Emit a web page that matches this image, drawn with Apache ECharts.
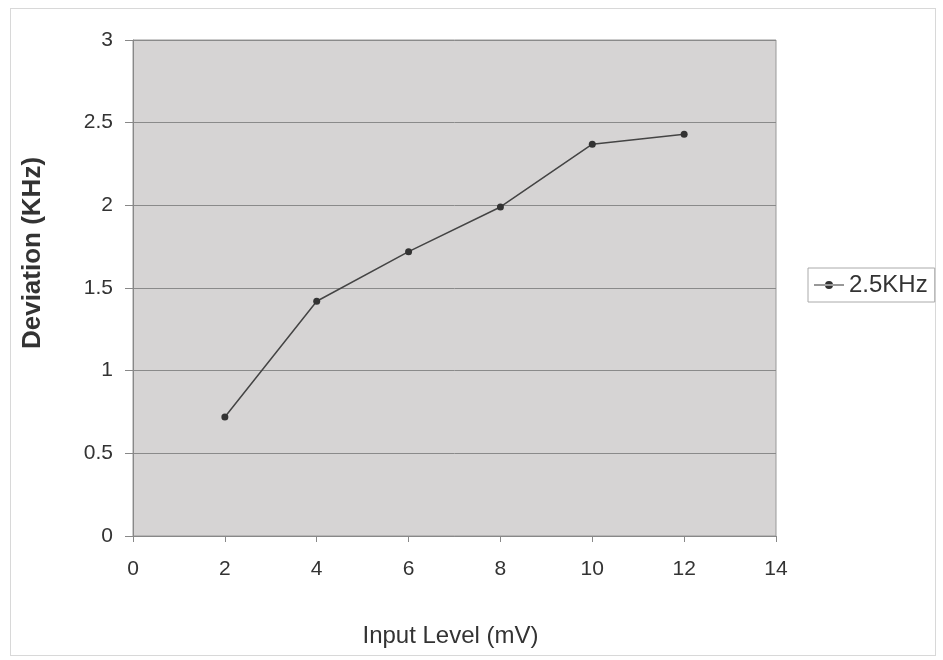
<!DOCTYPE html>
<html>
<head>
<meta charset="utf-8">
<script src="https://cdn.jsdelivr.net/npm/echarts@6/dist/echarts.min.js"></script>
<style>
html,body{margin:0;padding:0;background:#fff;}
#frame{position:absolute;left:10px;top:8px;width:924px;height:646px;border:1px solid #d8d8d8;}
#chart{position:absolute;left:0;top:0;width:943px;height:660px;}
</style>
</head>
<body>
<div id="frame"></div>
<div id="chart"></div>
<script>
const inputLevels = [2, 4, 6, 8, 10, 12];
const deviation = [0.72, 1.42, 1.72, 1.99, 2.37, 2.43];
const seriesName = '2.5KHz';
const xTitle = 'Input Level (mV)';
const yTitle = 'Deviation (KHz)';

const chart = echarts.init(document.getElementById('chart'));
const txt = '#333';
const ff = 'Liberation Sans, Arial';
chart.setOption({
  backgroundColor: 'transparent',
  animation: false,
  grid: { left: 133, right: 167, top: 40, bottom: 124, show: true, backgroundColor: '#d6d4d4', borderColor: '#999', borderWidth: 1 },
  legend: {
    show: true, left: 808, top: 268, orient: 'vertical',
    borderColor: '#aaa', borderWidth: 1, padding: [5, 7, 5, 6],
    itemWidth: 30, itemHeight: 10, itemGap: 0,
    textStyle: { fontFamily: ff, fontSize: 24, color: txt, lineHeight: 24 },
    data: [{ name: seriesName, icon: 'path://M0,4.5 L30,4.5 L30,5.5 L0,5.5 Z M11,5 a4,4 0 1,0 8,0 a4,4 0 1,0 -8,0' }]
  },
  graphic: [{
    type: 'text', x: 33, y: 253, rotation: Math.PI / 2, silent: true,
    style: { text: yTitle, x: 0, y: 0, align: 'center', verticalAlign: 'middle',
      font: 'bold 26px ' + ff, fill: txt }
  }],
  xAxis: {
    type: 'value', min: 0, max: 14, interval: 2,
    name: xTitle, nameLocation: 'middle', nameGap: 88,
    nameTextStyle: { fontFamily: ff, fontSize: 24, color: txt, padding: [0, 8, 0, 0] },
    axisLine: { show: true, lineStyle: { color: '#888', width: 1 } },
    axisTick: { show: true, length: 6, lineStyle: { color: '#888' } },
    axisLabel: { fontFamily: ff, fontSize: 21, color: txt, margin: 23 },
    splitLine: { show: false }
  },
  yAxis: {
    type: 'value', min: 0, max: 3, interval: 0.5,
    axisLine: { show: true, lineStyle: { color: '#888', width: 1 } },
    axisTick: { show: true, length: 8, lineStyle: { color: '#888' } },
    axisLabel: { fontFamily: ff, fontSize: 21, color: txt, margin: 20 },
    splitLine: { show: true, lineStyle: { color: '#8a8a8a', width: 1 } }
  },
  series: [{
    name: seriesName, type: 'line',
    data: inputLevels.map((x, i) => [x, deviation[i]]),
    symbol: 'circle', symbolSize: 7,
    lineStyle: { color: '#444', width: 1.5 },
    itemStyle: { color: '#333' }
  }]
});
</script>
</body>
</html>
